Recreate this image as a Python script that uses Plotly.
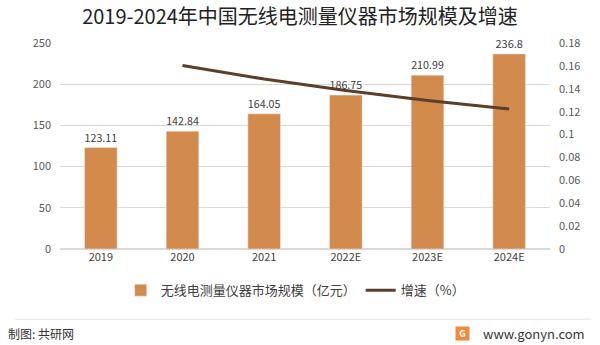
import plotly.graph_objects as go

years = ["2019", "2020", "2021", "2022E", "2023E", "2024E"]
market = [123.11, 142.84, 164.05, 186.75, 210.99, 236.8]
growth = [None, 0.1603, 0.1485, 0.1384, 0.1298, 0.1223]
market_labels = ["123.11", "142.84", "164.05", "186.75", "210.99", "236.8"]

FONT = "Noto Sans CJK SC, Noto Sans, sans-serif"
fig = go.Figure()
fig.add_trace(go.Bar(
    x=years, y=market, name="无线电测量仪器市场规模（亿元）",
    marker_color="#D38B4D", width=0.4,
    text=market_labels, textposition="outside", cliponaxis=False,
    textfont=dict(size=11, color="#404040"),
))
fig.add_trace(go.Scatter(
    x=years, y=growth, name="增速（%）", yaxis="y2", mode="lines",
    line=dict(color="#5B3F2B", width=3), connectgaps=False,
))
fig.update_layout(
    width=600, height=345, margin=dict(l=60, r=50, t=43, b=96),
    paper_bgcolor="white", plot_bgcolor="white",
    font=dict(family=FONT, size=11, color="#595959"),
    title=dict(text="2019-2024年中国无线电测量仪器市场规模及增速", x=0.5, y=0.95,
               xanchor="center", yanchor="middle",
               font=dict(size=20, color="#222222", family=FONT)),
    xaxis=dict(showline=False, ticks="", tickfont=dict(size=11, color="#404040")),
    yaxis=dict(range=[0, 250], dtick=50, showgrid=True, gridcolor="#D9D9D9",
               zeroline=True, zerolinecolor="#D9D9D9", ticks="", ticklabelstandoff=8),
    yaxis2=dict(range=[0, 0.18], dtick=0.02, overlaying="y", side="right",
                showgrid=False, zeroline=False, tickformat="~g", ticklabelstandoff=8),
    bargap=0.6,
    legend=dict(orientation="h", x=0.48, xanchor="center", y=-0.2, yanchor="middle",
                font=dict(size=13, color="#404040"), itemwidth=30, traceorder="normal"),
    showlegend=True,
)
fig.add_shape(type="line", xref="paper", yref="paper", x0=-0.092, x1=1.084,
              y0=-0.341, y1=-0.341, line=dict(color="#E6E6E6", width=1))
fig.add_annotation(text="制图: 共研网", xref="paper", yref="paper", x=-0.11, y=-0.41,
                   xanchor="left", yanchor="middle", showarrow=False,
                   font=dict(size=12, color="#333333"))
fig.add_annotation(text="www.gonyn.com", xref="paper", yref="paper", x=1.075, y=-0.41,
                   xanchor="right", yanchor="middle", showarrow=False,
                   font=dict(size=13, color="#333333"))
fig.add_annotation(text="<b>G</b>", xref="paper", yref="paper", x=0.822, y=-0.41,
                   xanchor="center", yanchor="middle", showarrow=False,
                   bgcolor="#F08A3C", font=dict(size=9, color="white"), width=11, height=11)
fig.write_html("out.html")
